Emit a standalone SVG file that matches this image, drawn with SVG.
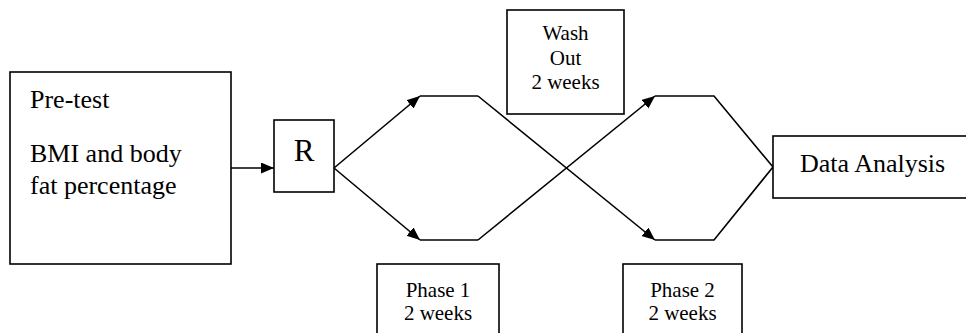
<svg xmlns="http://www.w3.org/2000/svg" width="966" height="333" viewBox="0 0 966 333" font-family="'Liberation Serif', 'Times New Roman', serif">
<style>
.box{fill:#fff;stroke:#000;stroke-width:1.6}
text{font-family:"Liberation Serif","Times New Roman",serif;fill:#000}
.c{stroke:#000;stroke-width:1.6;fill:none}
</style>
<defs>
<marker id="ah" markerUnits="userSpaceOnUse" markerWidth="14" markerHeight="12" refX="13" refY="5.5" orient="auto">
<path d="M0,0 L13,5.5 L0,11 z" fill="#000"/>
</marker>
</defs>
<g id="connectors">
<line class="c" x1="231" y1="168" x2="274" y2="168" marker-end="url(#ah)"/>
<line class="c" x1="334" y1="168" x2="420" y2="96" marker-end="url(#ah)"/>
<line class="c" x1="334" y1="168" x2="420" y2="240" marker-end="url(#ah)"/>
<line class="c" x1="420" y1="96" x2="478" y2="96"/>
<line class="c" x1="420" y1="240" x2="478" y2="240"/>
<line class="c" x1="478" y1="96" x2="655" y2="240" marker-end="url(#ah)"/>
<line class="c" x1="478" y1="240" x2="655" y2="96" marker-end="url(#ah)"/>
<polyline class="c" points="655,96 714,96 773,167"/>
<polyline class="c" points="655,240 714,240 773,167"/>
</g>
<g id="pretest" font-size="26">
<rect class="box" x="10" y="72" width="221" height="192"/>
<text x="30" y="108">Pre-test</text>
<text x="30" y="162">BMI and body</text>
<text x="30" y="194">fat percentage</text>
</g>
<g id="r">
<rect class="box" x="274" y="120" width="60" height="72"/>
<text font-size="31" x="304" y="161" text-anchor="middle">R</text>
</g>
<g id="washout" font-size="21" text-anchor="middle">
<rect class="box" x="507" y="10" width="117" height="104"/>
<text x="565.5" y="40">Wash</text>
<text x="565.5" y="65">Out</text>
<text x="565.5" y="89">2 weeks</text>
</g>
<g id="phase1" font-size="21" text-anchor="middle">
<rect class="box" x="377" y="264" width="122" height="80"/>
<text x="438" y="297">Phase 1</text>
<text x="438" y="320">2 weeks</text>
</g>
<g id="phase2" font-size="21" text-anchor="middle">
<rect class="box" x="623" y="264" width="119" height="80"/>
<text x="682.5" y="297">Phase 2</text>
<text x="682.5" y="320">2 weeks</text>
</g>
<g id="dataanalysis" font-size="26">
<rect class="box" x="773" y="136" width="200" height="62"/>
<text x="800" y="172">Data Analysis</text>
</g>
</svg>
